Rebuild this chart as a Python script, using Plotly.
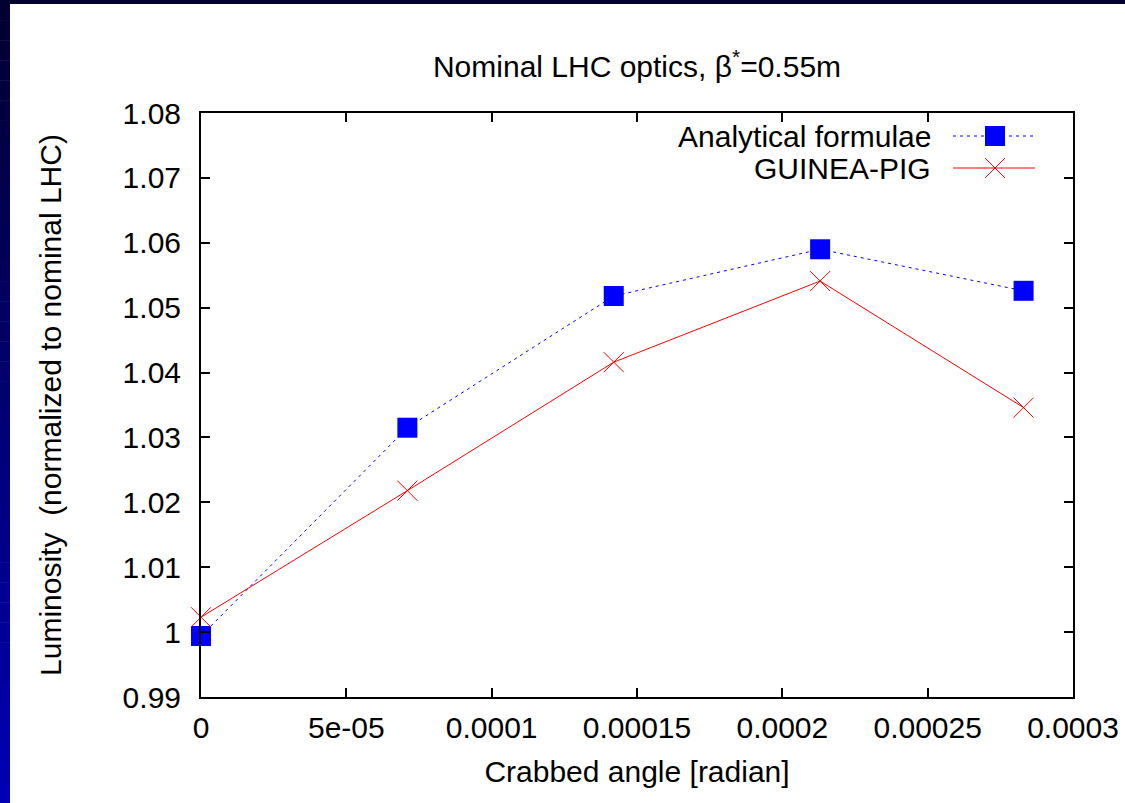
import plotly.graph_objects as go

# ---- data ----
angle = [0.0, 7.1e-05, 1.42e-04, 2.13e-04, 2.83e-04]
analytical = [0.9994, 1.0315, 1.0518, 1.0590, 1.0526]
guinea_pig = [1.0023, 1.0218, 1.0416, 1.0541, 1.0346]

x_tickvals = [0, 5e-05, 1e-04, 1.5e-04, 2e-04, 2.5e-04, 3e-04]
x_ticktext = ["0", "5e-05", "0.0001", "0.00015", "0.0002", "0.00025", "0.0003"]
y_tickvals = [0.99, 1.00, 1.01, 1.02, 1.03, 1.04, 1.05, 1.06, 1.07, 1.08]
y_ticktext = ["0.99", "1", "1.01", "1.02", "1.03", "1.04", "1.05", "1.06", "1.07", "1.08"]

series_names = ["Analytical formulae", "GUINEA-PIG"]

W, H = 1125, 803
L, R, T, B = 201, 52, 113, 106
PW, PH = W - L - R, H - T - B
FONT = "Liberation Sans, Arial, Helvetica, sans-serif"
FS = 30

def px2x(px):
    return (px - L) / PW

def py2y(py):
    return (H - B - py) / PH

fig = go.Figure()

fig.add_trace(go.Scatter(
    x=angle, y=analytical, mode="lines+markers", name=series_names[0],
    line=dict(color="#0000FF", width=1, dash="3px,4px"),
    marker=dict(symbol="square", size=20, color="#0000FF"),
    cliponaxis=False, showlegend=False))
fig.add_trace(go.Scatter(
    x=angle, y=guinea_pig, mode="lines+markers", name=series_names[1],
    line=dict(color="#FF0000", width=1),
    marker=dict(symbol="x-thin-open", size=20, color="#FF0000",
                line=dict(color="#FF0000", width=1)),
    cliponaxis=False, showlegend=False))

# ---- gnuplot-style legend (text left, sample right) on an overlay axis ----
leg_rows = [py2y(136), py2y(168)]
lx0, lxm, lx1 = px2x(953), px2x(995), px2x(1035)
fig.add_trace(go.Scatter(x=[lx0, lx1], y=[leg_rows[0]] * 2, mode="lines",
                         line=dict(color="#0000FF", width=1, dash="3px,4px"),
                         xaxis="x2", yaxis="y2", showlegend=False, hoverinfo="skip"))
fig.add_trace(go.Scatter(x=[lxm], y=[leg_rows[0]], mode="markers",
                         marker=dict(symbol="square", size=20, color="#0000FF"),
                         xaxis="x2", yaxis="y2", showlegend=False, hoverinfo="skip"))
fig.add_trace(go.Scatter(x=[lx0, lx1], y=[leg_rows[1]] * 2, mode="lines",
                         line=dict(color="#FF0000", width=1),
                         xaxis="x2", yaxis="y2", showlegend=False, hoverinfo="skip"))
fig.add_trace(go.Scatter(x=[lxm], y=[leg_rows[1]], mode="markers",
                         marker=dict(symbol="x-thin-open", size=20, color="#FF0000",
                                     line=dict(color="#FF0000", width=1)),
                         xaxis="x2", yaxis="y2", showlegend=False, hoverinfo="skip"))

annotations = []
for name, yy in zip(series_names, leg_rows):
    annotations.append(dict(text=name, x=px2x(933), y=yy, xref="paper", yref="paper",
                            xanchor="right", yanchor="middle", showarrow=False,
                            font=dict(family=FONT, size=FS, color="black")))

# ---- dark slide frame ----
shapes = []
shapes.append(dict(type="rect", xref="paper", yref="paper",
                   x0=px2x(0), x1=px2x(W), y0=py2y(4), y1=py2y(0),
                   fillcolor="#02002E", line=dict(width=0)))
n = 40
for i in range(n):
    t = i / (n - 1)
    r = int(round(2 * (1 - t)))
    b = int(round(46 + (180 - 46) * t))
    y0p = i * H / n
    y1p = (i + 1) * H / n + 0.5
    shapes.append(dict(type="rect", xref="paper", yref="paper",
                       x0=px2x(0), x1=px2x(10), y0=py2y(y1p), y1=py2y(y0p),
                       fillcolor=f"rgb({r},0,{b})", line=dict(width=0)))

axis_common = dict(showgrid=False, zeroline=False, showline=True, linecolor="black",
                   linewidth=2, mirror="ticks", ticks="inside", ticklen=9,
                   tickwidth=1.5, tickcolor="black",
                   tickfont=dict(family=FONT, size=FS, color="black"))

fig.update_layout(
    width=W, height=H,
    margin=dict(l=L, r=R, t=T, b=B, autoexpand=False),
    paper_bgcolor="white", plot_bgcolor="white",
    font=dict(family=FONT, size=FS, color="black"),
    title=dict(text="Nominal LHC optics, β<sup>*</sup>=0.55m",
               x=px2x(637), xref="paper", xanchor="center",
               y=1 - 66 / H, yref="container", yanchor="middle",
               font=dict(family=FONT, size=FS, color="black")),
    xaxis=dict(range=[0, 3e-4], tickvals=x_tickvals, ticktext=x_ticktext,
               ticklabelstandoff=3,
               title=dict(text="Crabbed angle [radian]", standoff=18,
                          font=dict(family=FONT, size=FS)),
               automargin=False, **axis_common),
    yaxis=dict(range=[0.99, 1.08], tickvals=y_tickvals, ticktext=y_ticktext,
               ticklabelstandoff=12,
               title=dict(text="Luminosity  (normalized to nominal LHC)", standoff=52,
                          font=dict(family=FONT, size=FS)),
               automargin=False, **axis_common),
    xaxis2=dict(range=[0, 1], overlaying="x", visible=False, anchor="y2"),
    yaxis2=dict(range=[0, 1], overlaying="y", visible=False, anchor="x2"),
    annotations=annotations,
    shapes=shapes,
)

fig.write_html("out.html",
               config={"displayModeBar": False},
               post_script="document.body.style.margin='0';"
                           "document.body.style.overflow='hidden';")
